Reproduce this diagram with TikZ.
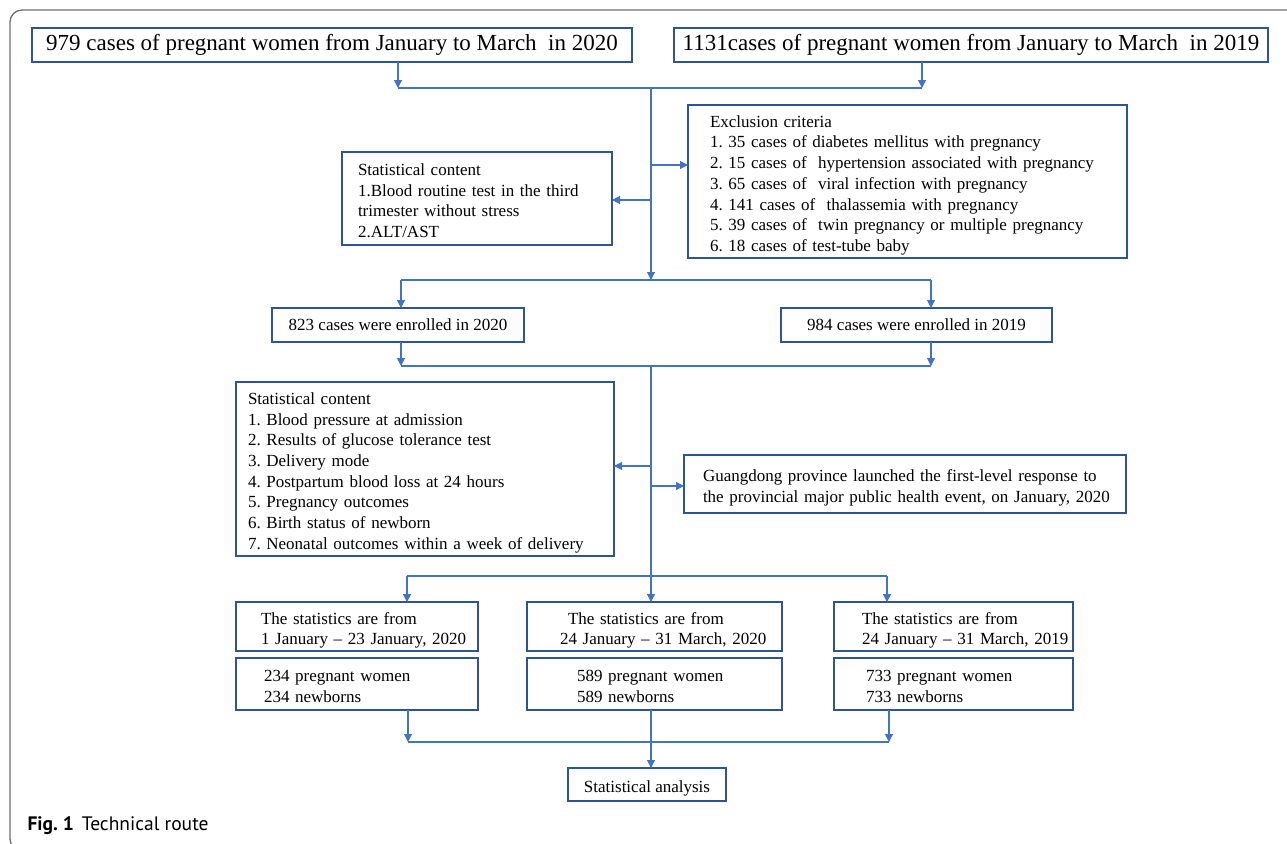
\documentclass[tikz,border=0pt]{standalone}
\usepackage{fontspec}
\setmainfont{Liberation Serif}
\newfontfamily\capfont{PT Sans}
\usetikzlibrary{arrows.meta}
\definecolor{boxblue}{RGB}{47,84,150}
\definecolor{lineblue}{RGB}{68,114,196}
\definecolor{framegray}{RGB}{110,110,110}
\newcommand{\boxlines}[1]{\begin{tabular}{@{}l@{}}\rule{0pt}{22pt}#1\end{tabular}}
\frenchspacing
\begin{document}
\begin{tikzpicture}[x=1pt,y=-1pt,
  box/.style={draw=boxblue,line width=1.3pt,outer sep=0pt,inner ysep=0pt,anchor=north west,align=left,font=\fontsize{17}{20.7}\selectfont},
  wide/.style={box,align=center,font=\fontsize{23}{26}\selectfont},
  line/.style={draw=lineblue,line width=1.1pt},
  arr/.style={line,-{Triangle[length=8pt,width=8pt]}}]
\useasboundingbox (0,0) rectangle (1287,843);
\draw[framegray,line width=1.3pt,rounded corners=12] (10,10) rectangle (1310,851);
% boxes
\node (c2020) at (32,28) [wide,minimum width=600,minimum height=34] {979 cases of pregnant women from January to March~ in 2020};
\node (c2019) at (674,28) [wide,minimum width=594,minimum height=34] {1131cases of pregnant women from January to March~ in 2019};
\node (excl) at (688,105) [box,minimum height=153,text width=395,inner xsep=22] {\boxlines{Exclusion criteria\\1. 35 cases of diabetes mellitus with pregnancy\\2. 15 cases of~ hypertension associated with pregnancy\\3. 65 cases of~ viral infection with pregnancy\\4. 141 cases of~ thalassemia with pregnancy\\5. 39 cases of~ twin pregnancy or multiple pregnancy\\6. 18 cases of test-tube baby}};
\node (stat1) at (342,152) [box,minimum height=93,text width=238,inner xsep=16] {\boxlines{Statistical content\\1.Blood routine test in the third\\trimester without stress\\2.ALT/AST}};
\node (enr2020) at (272,308) [box,align=center,minimum width=252,minimum height=34] {823 cases were enrolled in 2020};
\node (enr2019) at (781,308) [box,align=center,minimum width=271,minimum height=34] {984 cases were enrolled in 2019};
\node (stat2) at (236,382) [box,minimum height=174,text width=354,inner xsep=12] {\boxlines{Statistical content\\1. Blood pressure at admission\\2. Results of glucose tolerance test\\3. Delivery mode\\4. Postpartum blood loss at 24 hours\\5. Pregnancy outcomes\\6. Birth status of newborn\\7. Neonatal outcomes within a week of delivery}};
\node (gd) at (684,455) [box,minimum height=58,text width=404,inner xsep=19] {\boxlines{Guangdong province launched the first-level response to\\the provincial major public health event, on January, 2020}};
\node (per1) at (236,602) [box,minimum height=49,text width=192,inner xsep=25] {\boxlines{The statistics are from\\1 January -- 23 January, 2020}};
\node (per2) at (527,602) [box,minimum height=49,text width=189,inner xsep=33] {\boxlines{\hspace*{8pt}The statistics are from\\24 January -- 31 March, 2020}};
\node (per3) at (834,602) [box,minimum height=49,text width=183,inner xsep=28] {\boxlines{The statistics are from\\24 January -- 31 March, 2019}};
\node (num1) at (236,658) [box,minimum height=52,text width=186,inner xsep=28] {\boxlines{234 pregnant women\\234 newborns}};
\node (num2) at (527,658) [box,minimum height=52,text width=155,inner xsep=50] {\boxlines{589 pregnant women\\589 newborns}};
\node (num3) at (834,658) [box,minimum height=52,text width=175,inner xsep=32] {\boxlines{733 pregnant women\\733 newborns}};
\node (ana) at (568,768) [box,align=center,minimum width=158,minimum height=33] {\boxlines{Statistical analysis}};
\node (cap) at (24,826) [anchor=west,font=\capfont\fontsize{19.5}{22}\selectfont] {\textbf{Fig. 1}\hspace{8pt}Technical route};
% joints
\coordinate (t0) at (651,88);
\coordinate (t1) at (398,88);
\coordinate (t2) at (922,88);
\coordinate (s1) at (651,165);
\coordinate (s2) at (651,200);
\coordinate (e0) at (651,280);
\coordinate (e1) at (401,280);
\coordinate (e2) at (931,280);
\coordinate (f0) at (651,366);
\coordinate (f1) at (401,366);
\coordinate (f2) at (931,366);
\coordinate (g1) at (651,466);
\coordinate (g2) at (651,486);
\coordinate (h0) at (651,576);
\coordinate (h1) at (407,576);
\coordinate (h3) at (887,576);
\coordinate (k1) at (408,742);
\coordinate (k3) at (889,742);
% connectors
\draw[arr] (c2020.south -| t1) -- (t1);
\draw[arr] (c2019.south -| t2) -- (t2);
\draw[line] (t1) -- (t2);
\draw[arr] (t0) -- (e0);
\draw[arr] (s1) -- (excl.west |- s1);
\draw[arr] (s2) -- (stat1.east |- s2);
\draw[line] (e1) -- (e2);
\draw[arr] (e1) -- (enr2020.north -| e1);
\draw[arr] (e2) -- (enr2019.north -| e2);
\draw[arr] (enr2020.south -| f1) -- (f1);
\draw[arr] (enr2019.south -| f2) -- (f2);
\draw[line] (f1) -- (f2);
\draw[line] (f0) -- (h0);
\draw[arr] (g1) -- (stat2.east |- g1);
\draw[arr] (g2) -- (gd.west |- g2);
\draw[line] (h1) -- (h3);
\draw[arr] (h1) -- (per1.north -| h1);
\draw[arr] (h0) -- (per2.north -| h0);
\draw[arr] (h3) -- (per3.north -| h3);
\draw[arr] (num1.south -| k1) -- (k1);
\draw[arr] (num3.south -| k3) -- (k3);
\draw[line] (k1) -- (k3);
\draw[arr] (num2.south -| h0) -- (ana.north -| h0);
\end{tikzpicture}
\end{document}
